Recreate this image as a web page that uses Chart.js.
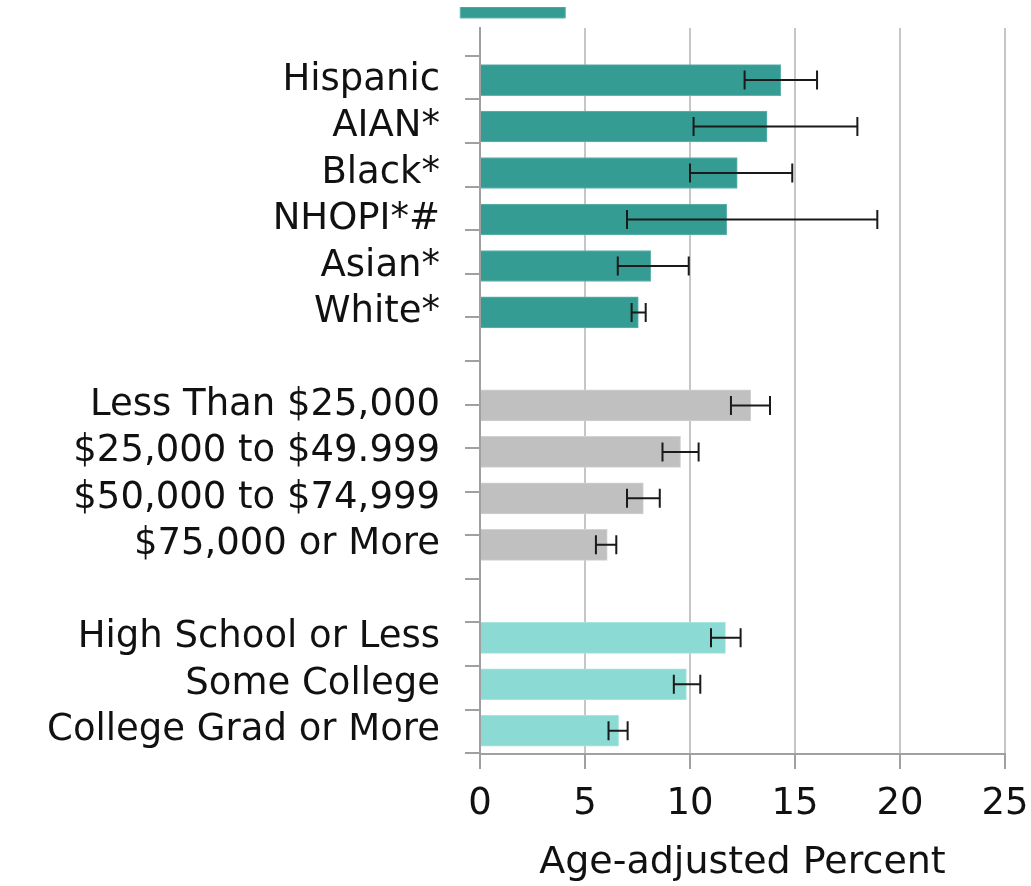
<!DOCTYPE html>
<html>
<head>
<meta charset="utf-8">
<script src="https://cdn.jsdelivr.net/npm/chart.js@4"></script>
<style>
  html, body { margin: 0; padding: 0; background: #fff; }
  #wrap { width: 1031px; height: 886px; }
</style>
</head>
<body>
<div id="wrap"><canvas id="chart"></canvas></div>
<script>
// rows top to bottom; empty strings are the gaps between groups
const categories = [
    'Hispanic', 'AIAN*', 'Black*', 'NHOPI*#', 'Asian*', 'White*', '',
    'Less Than $25,000', '$25,000 to $49.999', '$50,000 to $74,999', '$75,000 or More', '',
    'High School or Less', 'Some College', 'College Grad or More'
];
const values = [14.32, 13.67, 12.25, 11.75, 8.13, 7.54, null, 12.89, 9.55, 7.78, 6.06, null, 11.69, 9.83, 6.6];
const lower  = [12.6, 10.17, 10.0, 7.0, 6.56, 7.22, null, 11.95, 8.69, 7.0, 5.52, null, 11.0, 9.23, 6.12];
const upper  = [16.05, 17.97, 14.87, 18.92, 9.94, 7.89, null, 13.81, 10.41, 8.56, 6.49, null, 12.41, 10.49, 7.03];
const groups = [0, 0, 0, 0, 0, 0, null, 1, 1, 1, 1, null, 2, 2, 2];
const xTicks = [0, 5, 10, 15, 20, 25];

const groupColors = ['#359c94', '#c0c0c0', '#8bdad3'];
const groupBorders = ['#62b4ad', '#d2d2d2', '#a9e4de'];
const FONT = '"DejaVu Sans", sans-serif';

const points = [];
values.forEach((v, i) => {
    if (v !== null) points.push({ x: v, y: i });
});

const errorBars = {
    id: 'errorBars',
    afterDatasetsDraw(chart) {
        const { ctx, scales: { x } } = chart;
        const meta = chart.getDatasetMeta(0);
        ctx.save();
        ctx.strokeStyle = '#1a1a1a';
        ctx.lineWidth = 2;
        meta.data.forEach((bar, j) => {
            const i = points[j].y;
            const x1 = x.getPixelForValue(lower[i]);
            const x2 = x.getPixelForValue(upper[i]);
            const y = bar.y;
            const cap = 9.5;
            ctx.beginPath();
            ctx.moveTo(x1, y); ctx.lineTo(x2, y);
            ctx.moveTo(x1, y - cap); ctx.lineTo(x1, y + cap);
            ctx.moveTo(x2, y - cap); ctx.lineTo(x2, y + cap);
            ctx.stroke();
        });
        ctx.restore();
    }
};

// the category axes should not reserve room above/below the plot
const noVPad = (scale) => { scale.paddingTop = 0; scale.paddingBottom = 0; };

new Chart(document.getElementById('chart'), {
    type: 'bar',
    data: {
        datasets: [{
            data: points,
            backgroundColor: points.map(p => groupColors[groups[p.y]]),
            borderColor: points.map(p => groupBorders[groups[p.y]]),
            borderWidth: 1,
            barThickness: 31,
            yAxisID: 'y'
        }]
    },
    options: {
        indexAxis: 'y',
        responsive: true,
        maintainAspectRatio: false,
        animation: false,
        layout: { padding: { top: 7, right: 0, bottom: 0, left: 0 } },
        plugins: {
            tooltip: { enabled: false },
            legend: {
                display: true,
                position: 'top',
                labels: {
                    boxWidth: 105,
                    boxHeight: 11,
                    padding: 0,
                    font: { size: 11, family: FONT },
                    generateLabels: () => [{
                        text: '',
                        fillStyle: groupColors[0],
                        strokeStyle: groupBorders[0],
                        lineWidth: 1,
                        hidden: false,
                        datasetIndex: 0
                    }]
                }
            }
        },
        scales: {
            x: {
                type: 'linear',
                min: 0,
                max: 25,
                afterBuildTicks: (scale) => { scale.ticks = xTicks.map(v => ({ value: v })); },
                afterFit: (scale) => { scale.height = 132; scale.paddingRight = 26; },
                grid: { color: '#c6c6c6', lineWidth: 2, tickColor: '#a0a0a0', tickLength: 15 },
                border: { color: '#a0a0a0', width: 2 },
                ticks: { font: { size: 37, family: FONT }, color: '#111', padding: 13 },
                title: {
                    display: true,
                    text: 'Age-adjusted Percent',
                    font: { size: 38, family: FONT },
                    color: '#111',
                    padding: { top: 6, bottom: 0 }
                }
            },
            yt: {
                type: 'linear',
                position: 'left',
                reverse: true,
                min: -1.12,
                max: 14.5,
                weight: 0,
                afterBuildTicks: (scale) => {
                    scale.ticks = categories.map((c, i) => ({ value: i - 0.5 })).concat([{ value: 14.5 }]);
                },
                afterFit: (scale) => { scale.width = 18; noVPad(scale); },
                grid: { drawOnChartArea: false, tickLength: 15, tickColor: '#a0a0a0', lineWidth: 2 },
                border: { color: '#a0a0a0', width: 2 },
                ticks: { autoSkip: false, callback: () => '', padding: 3 }
            },
            y: {
                type: 'linear',
                position: 'left',
                reverse: true,
                offset: false,
                min: -1.12,
                max: 14.5,
                weight: 1,
                afterBuildTicks: (scale) => {
                    scale.ticks = categories.map((c, i) => ({ value: i }));
                },
                afterFit: (scale) => { scale.width = 462; noVPad(scale); },
                grid: { display: false, drawTicks: false, offset: false },
                border: { display: false },
                ticks: {
                    autoSkip: false,
                    padding: 22,
                    font: { size: 37, family: FONT },
                    color: '#111',
                    callback: (v) => categories[v]
                }
            }
        }
    },
    plugins: [errorBars]
});
</script>
</body>
</html>
